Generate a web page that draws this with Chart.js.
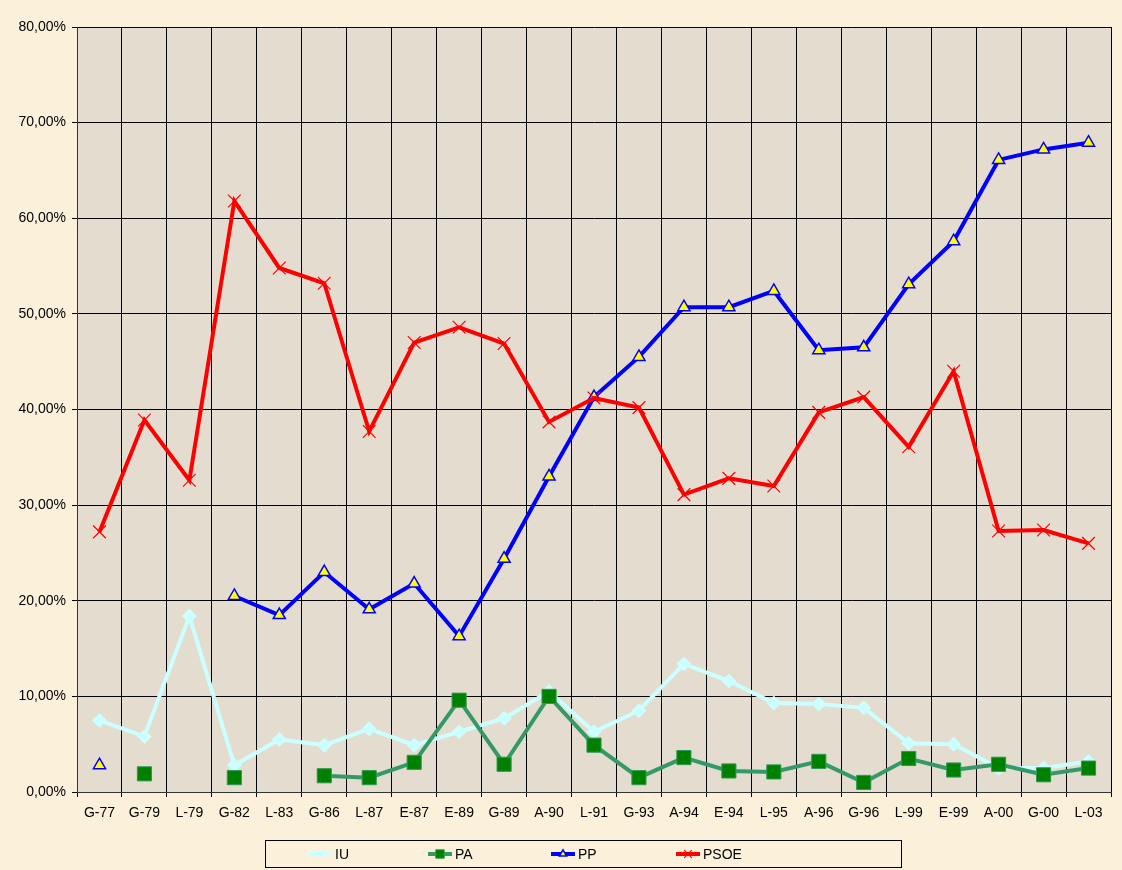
<!DOCTYPE html>
<html>
<head>
<meta charset="utf-8">
<script src="https://cdn.jsdelivr.net/npm/chart.js@4/dist/chart.umd.min.js"></script>
<style>
  html, body { margin: 0; padding: 0; background: #fbf1da; }
  #wrap { width: 1122px; height: 870px; }
</style>
</head>
<body>
<div id="wrap"><canvas id="chart" width="1122" height="870"></canvas></div>
<script>
// election labels
const categories = ['G-77','G-79','L-79','G-82','L-83','G-86','L-87','E-87','E-89','G-89','A-90','L-91',
  'G-93','A-94','E-94','L-95','A-96','G-96','L-99','E-99','A-00','G-00','L-03'];

// values in %
const iu   = [7.5, 5.8, 18.4, 2.8, 5.5, 4.9, 6.6, 4.9, 6.3, 7.7, 10.5, 6.3, 8.5, 13.4, 11.6, 9.3, 9.2, 8.8, 5.1, 5.0, 2.5, 2.5, 3.2];
const pa   = [null, 1.9, null, 1.5, null, 1.7, 1.5, 3.1, 9.6, 2.9, 10.0, 4.9, 1.5, 3.6, 2.2, 2.1, 3.2, 1.0, 3.5, 2.3, 2.9, 1.8, 2.5];
const pp   = [2.8, null, null, 20.5, 18.5, 23.0, 19.1, 21.8, 16.3, 24.4, 33.0, 41.3, 45.5, 50.7, 50.7, 52.4, 46.2, 46.5, 53.1, 57.6, 66.1, 67.2, 67.9];
const psoe = [27.2, 38.9, 32.6, 61.8, 54.8, 53.2, 37.7, 47.0, 48.6, 46.9, 38.7, 41.2, 40.2, 31.1, 32.8, 32.0, 39.7, 41.3, 36.1, 44.0, 27.3, 27.4, 26.0];

const yTicks = [0, 10, 20, 30, 40, 50, 60, 70, 80];

const FONT = '"Liberation Sans", Arial, sans-serif';

// backgrounds: page and plot area
const bgPlugin = {
  id: 'bg',
  beforeDraw(chart) {
    const { ctx, chartArea: a } = chart;
    ctx.save();
    ctx.fillStyle = '#fbf1da';
    ctx.fillRect(0, 0, chart.width, chart.height);
    ctx.fillStyle = '#e5dcd0';
    ctx.fillRect(a.left, a.top, a.right - a.left, a.bottom - a.top);
    ctx.restore();
  }
};

// boxed legend under the axis, like the excel one
const legendPlugin = {
  id: 'boxLegend',
  afterDraw(chart) {
    const ctx = chart.ctx;
    const centers = [320, 440, 563, 688];
    const y = 854;
    ctx.save();
    ctx.strokeStyle = '#000';
    ctx.lineWidth = 1;
    ctx.strokeRect(265.5, 840.5, 636, 27);
    chart.data.datasets.forEach((ds, i) => {
      const cx = centers[i];
      ctx.strokeStyle = ds.borderColor;
      ctx.lineWidth = ds.borderWidth;
      ctx.beginPath();
      ctx.moveTo(cx - 12, y);
      ctx.lineTo(cx + 12, y);
      ctx.stroke();
      if (Chart.helpers && Chart.helpers.drawPoint) {
        ctx.fillStyle = ds.pointBackgroundColor;
        ctx.strokeStyle = ds.pointBorderColor;
        ctx.lineWidth = ds.pointBorderWidth;
        Chart.helpers.drawPoint(ctx, {
          pointStyle: ds.pointStyle,
          radius: ds.pointRadius * 0.6,
          rotation: 0,
          borderWidth: ds.pointBorderWidth
        }, cx, y);
      }
      ctx.fillStyle = '#000';
      ctx.font = '14px ' + FONT;
      ctx.textBaseline = 'middle';
      ctx.textAlign = 'left';
      ctx.fillText(ds.label, cx + 15, y + 1);
    });
    ctx.restore();
  }
};

new Chart(document.getElementById('chart'), {
  type: 'line',
  data: {
    labels: categories,
    datasets: [
      {
        label: 'IU', data: iu, order: 4,
        borderColor: '#ccffff', borderWidth: 4,
        pointStyle: 'rectRot', pointRadius: 7,
        pointBackgroundColor: '#ccffff', pointBorderColor: '#ccffff', pointBorderWidth: 1
      },
      {
        label: 'PA', data: pa, order: 3,
        borderColor: '#339966', borderWidth: 4,
        pointStyle: 'rect', pointRadius: 10,
        pointBackgroundColor: '#008000', pointBorderColor: '#2e9a50', pointBorderWidth: 1
      },
      {
        label: 'PP', data: pp, order: 2,
        borderColor: '#0000ff', borderWidth: 4,
        pointStyle: 'triangle', pointRadius: 7,
        pointBackgroundColor: '#ffff00', pointBorderColor: '#0000ff', pointBorderWidth: 1.5
      },
      {
        label: 'PSOE', data: psoe, order: 1,
        borderColor: '#ff0000', borderWidth: 4,
        pointStyle: 'crossRot', pointRadius: 9,
        pointBackgroundColor: '#ff0000', pointBorderColor: '#ff0000', pointBorderWidth: 1.2
      }
    ]
  },
  options: {
    responsive: false,
    animation: false,
    spanGaps: false,
    layout: { padding: { left: 0, top: 27, right: 10, bottom: 43 } },
    elements: { line: { tension: 0 } },
    plugins: {
      legend: { display: false },
      tooltip: { enabled: false }
    },
    scales: {
      x: {
        offset: true,
        afterFit: s => { s.height = 35; },
        grid: { offset: true, color: '#000', lineWidth: 1, tickLength: 5, drawTicks: true },
        border: { color: '#333', width: 1 },
        ticks: { color: '#000', font: { family: FONT, size: 14 }, padding: 8, maxRotation: 0, autoSkip: false }
      },
      y: {
        min: 0, max: 80,
        afterFit: s => { s.width = 77; },
        afterBuildTicks: s => { s.ticks = yTicks.map(v => ({ value: v })); },
        grid: { color: '#000', lineWidth: 1, tickLength: 5 },
        border: { color: '#333', width: 1 },
        ticks: {
          color: '#000', font: { family: FONT, size: 14 }, padding: 6,
          callback: v => v.toFixed(2).replace('.', ',') + '%'
        }
      }
    }
  },
  plugins: [bgPlugin, legendPlugin]
});
</script>
</body>
</html>
